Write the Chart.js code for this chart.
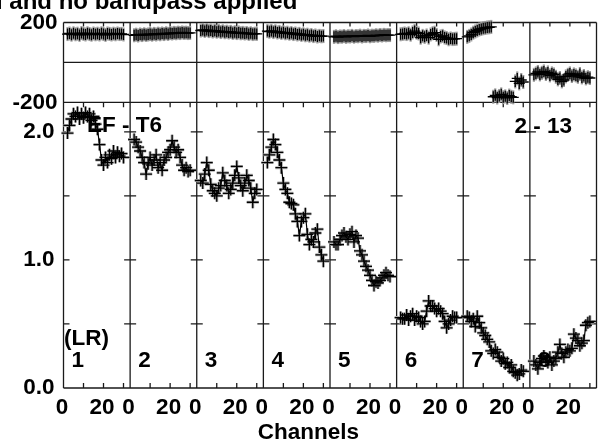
<!DOCTYPE html>
<html>
<head>
<meta charset="utf-8">
<script src="https://cdn.jsdelivr.net/npm/chart.js@4.4.1/dist/chart.umd.min.js"></script>
<style>
  html, body { margin: 0; padding: 0; background: #fff; }
  #wrap { width: 598px; height: 443px; }
</style>
</head>
<body>
<div id="wrap"><canvas id="possm" width="598" height="443"></canvas></div>
<script>
// POSSM style plot: phase (top strip) and amplitude (bottom) for 8 IFs, channels 2..30

var channels = [2, 3, 4, 5, 6, 7, 8, 9, 10, 11, 12, 13, 14, 15, 16, 17, 18, 19, 20, 21, 22, 23, 24, 25, 26, 27, 28, 29, 30];

// amplitude per IF
var amp1 = [1.99, 2.05, 2.10, 2.14, 2.12, 2.15, 2.10, 2.14, 2.11, 2.15, 2.12, 2.14, 2.09, 2.12, 2.06, 2.02, 1.90, 1.78, 1.74, 1.80, 1.76, 1.82, 1.79, 1.85, 1.80, 1.84, 1.81, 1.83, 1.80];
var amp2 = [1.94, 1.92, 1.88, 1.85, 1.80, 1.76, 1.67, 1.75, 1.80, 1.74, 1.78, 1.82, 1.72, 1.76, 1.70, 1.78, 1.80, 1.84, 1.86, 1.93, 1.88, 1.84, 1.86, 1.80, 1.74, 1.70, 1.72, 1.69, 1.70];
var amp3 = [1.62, 1.60, 1.67, 1.76, 1.70, 1.59, 1.54, 1.52, 1.50, 1.56, 1.58, 1.68, 1.62, 1.58, 1.52, 1.55, 1.60, 1.66, 1.73, 1.64, 1.58, 1.54, 1.60, 1.66, 1.62, 1.56, 1.45, 1.52, 1.55];
var amp4 = [1.76, 1.82, 1.88, 1.94, 1.90, 1.84, 1.78, 1.72, 1.60, 1.55, 1.52, 1.45, 1.44, 1.43, 1.36, 1.30, 1.19, 1.30, 1.33, 1.36, 1.20, 1.12, 1.16, 1.14, 1.21, 1.24, 1.10, 1.04, 0.99];
var amp5 = [1.14, 1.12, 1.12, 1.16, 1.19, 1.21, 1.18, 1.16, 1.20, 1.22, 1.14, 1.19, 1.17, 1.07, 1.04, 0.99, 0.95, 0.92, 0.88, 0.84, 0.80, 0.83, 0.82, 0.84, 0.86, 0.88, 0.90, 0.88, 0.87];
var amp6 = [0.55, 0.54, 0.54, 0.57, 0.53, 0.56, 0.58, 0.53, 0.56, 0.55, 0.52, 0.50, 0.52, 0.60, 0.68, 0.64, 0.64, 0.62, 0.60, 0.62, 0.60, 0.58, 0.52, 0.47, 0.50, 0.53, 0.56, 0.55, 0.55];
var amp7 = [0.56, 0.55, 0.52, 0.54, 0.48, 0.56, 0.51, 0.47, 0.43, 0.41, 0.38, 0.36, 0.29, 0.27, 0.30, 0.28, 0.24, 0.21, 0.23, 0.19, 0.20, 0.16, 0.18, 0.13, 0.12, 0.10, 0.11, 0.14, 0.13];
var amp8 = [0.21, 0.18, 0.15, 0.20, 0.23, 0.25, 0.21, 0.20, 0.24, 0.18, 0.21, 0.23, 0.28, 0.34, 0.27, 0.24, 0.28, 0.30, 0.29, 0.31, 0.42, 0.39, 0.37, 0.33, 0.35, 0.37, 0.49, 0.51, 0.52];

// phase per IF (degrees)
var phase1 = [142, 145, 139, 146, 141, 144, 138, 147, 143, 140, 146, 142, 139, 145, 141, 144, 140, 146, 142, 138, 145, 143, 140, 144, 141, 145, 142, 143, 140];
var phase2 = [136, 139, 135, 140, 137, 141, 138, 140, 142, 139, 143, 140, 144, 141, 145, 142, 146, 143, 147, 145, 148, 146, 149, 147, 150, 148, 149, 147, 148];
var phase3 = [160, 163, 158, 162, 157, 160, 155, 159, 154, 157, 152, 156, 151, 154, 150, 153, 148, 151, 147, 150, 146, 148, 145, 147, 143, 146, 142, 144, 143];
var phase4 = [157, 154, 158, 152, 156, 150, 153, 148, 151, 146, 149, 144, 147, 142, 145, 140, 143, 138, 141, 136, 139, 134, 137, 132, 135, 130, 133, 131, 132];
var phase5 = [128, 131, 127, 130, 129, 132, 128, 131, 130, 133, 129, 132, 131, 134, 130, 133, 132, 135, 131, 134, 133, 136, 134, 137, 135, 138, 136, 137, 137];
var phase6 = [141, 143, 145, 142, 146, 139, 150, 157, 149, 145, 124, 133, 128, 135, 124, 140, 146, 149, 138, 116, 130, 133, 125, 122, 116, 120, 117, 118, 119];
var phase7 = [128, 133, 140, 149, 155, 160, 165, 168, 171, 173, 175, 176, 178, -172, -165, -176, -168, -160, -174, -170, -178, -166, -172, -175, -95, -80, -105, -88, -98];
var phase8 = [-62, -55, -48, -60, -52, -45, -58, -50, -65, -55, -60, -72, -85, -78, -95, -88, -70, -62, -55, -68, -60, -65, -72, -58, -75, -68, -80, -74, -78];

var ampSeries = [amp1, amp2, amp3, amp4, amp5, amp6, amp7, amp8];
var phaseSeries = [phase1, phase2, phase3, phase4, phase5, phase6, phase7, phase8];

var chanTicks = [0, 20];
var chanMinor = [10, 20, 30];
var chanSpan = 33.3125;   // channel extent of one panel
var ampTicks = [0, 1, 2];
var ampMinor = [0.5, 1, 1.5, 2];
var phaseTicks = [-200, 200];
var panelLabels = ['1', '2', '3', '4', '5', '6', '7', '8'];

Chart.defaults.font.family = "'Liberation Sans', Arial, sans-serif";
Chart.defaults.font.size = 22.5;
Chart.defaults.font.weight = 'bold';
Chart.defaults.color = '#000';

function fixTicks(list) {
    return function (s) { s.ticks = list.map(function (v) { return { value: v }; }); };
}

var scales = {
    amp: {
        axis: 'y', position: 'left', stack: 'v', stackWeight: 288, weight: 0,
        min: 0, max: 2.23,
        afterBuildTicks: fixTicks(ampTicks),
        afterFit: function (s) { s.width = 63.5; },
        ticks: { padding: 9, callback: function (v) { return v.toFixed(1); } },
        grid: { display: false, drawTicks: false }, border: { display: false }
    },
    phase: {
        axis: 'y', position: 'left', stack: 'v', stackWeight: 80.5, weight: 1,
        min: -200, max: 200,
        afterBuildTicks: fixTicks(phaseTicks),
        afterFit: function (s) { s.width = 63.5; },
        ticks: { padding: 6, callback: function (v) { return String(v); } },
        grid: { display: false, drawTicks: false }, border: { display: false }
    }
};
// one channel scale per IF; each spans the whole width so that its own 0..span lands in its panel
for (var i = 0; i < 8; i++) {
    scales['x' + (i + 1)] = {
        type: 'linear', axis: 'x', position: { amp: 0 },
        min: -i * chanSpan, max: (8 - i) * chanSpan,
        afterBuildTicks: fixTicks(chanTicks),
        ticks: { padding: 6.5, labelOffset: -1.5, maxRotation: 0, callback: function (v) { return String(v); } },
        grid: { display: false, drawTicks: false }, border: { display: false }
    };
}

// black crosses + line first so they end up on top of the grey error marks
var datasets = [];
ampSeries.forEach(function (amp, i) {
    var pts = channels.map(function (c, j) { return { x: c, y: amp[j] }; });
    datasets.push({
        xAxisID: 'x' + (i + 1), yAxisID: 'amp', data: pts, showLine: true, clip: false,
        borderColor: '#000', borderWidth: 1.2,
        pointStyle: 'cross', pointRadius: 6, pointBorderWidth: 1.3, pointBorderColor: '#000'
    });
});
phaseSeries.forEach(function (ph, i) {
    var pts = channels.map(function (c, j) { return { x: c, y: ph[j] }; });
    datasets.push({
        xAxisID: 'x' + (i + 1), yAxisID: 'phase', data: pts, showLine: false, clip: false,
        pointStyle: 'cross', pointRadius: 5.5, pointBorderWidth: 1.3, pointBorderColor: '#000'
    });
});
ampSeries.forEach(function (amp, i) {
    var pts = channels.map(function (c, j) { return { x: c, y: amp[j] }; });
    datasets.push({
        xAxisID: 'x' + (i + 1), yAxisID: 'amp', data: pts, showLine: false, clip: false,
        pointStyle: 'cross', pointRadius: 6, pointBorderWidth: 3, pointBorderColor: '#b0b0b0'
    });
});
phaseSeries.forEach(function (ph, i) {
    var pts = channels.map(function (c, j) { return { x: c, y: ph[j] }; });
    datasets.push({
        xAxisID: 'x' + (i + 1), yAxisID: 'phase', data: pts, showLine: false, clip: false,
        pointStyle: 'line', pointRotation: 90, pointRadius: 7, pointBorderWidth: 2.2, pointBorderColor: '#9a9a9a'
    });
});

// panel frames and inner tick marks
var frame = {
    id: 'frame',
    beforeDatasetsDraw: function (chart) {
        var ctx = chart.ctx, a = chart.chartArea;
        var ph = chart.scales.phase, am = chart.scales.amp;
        var yTop = ph.getPixelForValue(200), yMid = ph.getPixelForValue(0);
        var ySplit = ph.getPixelForValue(-200), yBot = am.getPixelForValue(0);
        ctx.save();
        ctx.strokeStyle = '#1a1a1a';
        ctx.lineWidth = 1.3;
        ctx.beginPath();
        [yTop, yMid, ySplit, yBot].forEach(function (y) { ctx.moveTo(a.left, y); ctx.lineTo(a.right, y); });
        for (var k = 1; k <= 8; k++) {
            var sx = chart.scales['x' + k];
            var left = sx.getPixelForValue(0), right = sx.getPixelForValue(chanSpan);
            ctx.moveTo(left, yTop); ctx.lineTo(left, yBot);
            if (k === 8) { ctx.moveTo(right, yTop); ctx.lineTo(right, yBot); }
            chanMinor.forEach(function (c) {
                var x = sx.getPixelForValue(c);
                ctx.moveTo(x, yTop); ctx.lineTo(x, yTop + 4);
                ctx.moveTo(x, ySplit); ctx.lineTo(x, ySplit + 5);
                ctx.moveTo(x, yBot); ctx.lineTo(x, yBot - 5);
            });
            ampMinor.forEach(function (v) {
                var y = am.getPixelForValue(v);
                ctx.moveTo(left - (k === 1 ? 0 : 6), y); ctx.lineTo(left + 6, y);
                if (k === 8) { ctx.moveTo(right - 6, y); ctx.lineTo(right, y); }
            });
        }
        ctx.stroke();
        ctx.restore();
    },
    afterDraw: function (chart) {
        var ctx = chart.ctx;
        ctx.save();
        ctx.fillStyle = '#000';
        ctx.textBaseline = 'alphabetic';
        ctx.textAlign = 'left';
        ctx.font = "bold 24px 'Liberation Sans', Arial, sans-serif";
        ctx.fillText('l and no bandpass applied', -4, 8.5);
        ctx.font = "bold 22.5px 'Liberation Sans', Arial, sans-serif";
        ctx.fillText('EF - T6', 87, 132);
        ctx.fillText('2 - 13', 514.5, 133);
        ctx.fillText('(LR)', 64, 345);
        panelLabels.forEach(function (t, k) {
            ctx.fillText(t, chart.scales['x' + (k + 1)].getPixelForValue(0) + 8, 367);
        });
        ctx.textAlign = 'center';
        ctx.fillText('Channels', 308.5, 439);
        ctx.restore();
    }
};

new Chart('possm', {
    type: 'scatter',
    data: { datasets: datasets },
    options: {
        responsive: false,
        devicePixelRatio: 1,
        animation: false,
        layout: { autoPadding: false, padding: { top: 19.5, right: 1.5, bottom: 55, left: 0 } },
        plugins: { legend: { display: false }, tooltip: { enabled: false } },
        scales: scales
    },
    plugins: [frame]
});
</script>
</body>
</html>
